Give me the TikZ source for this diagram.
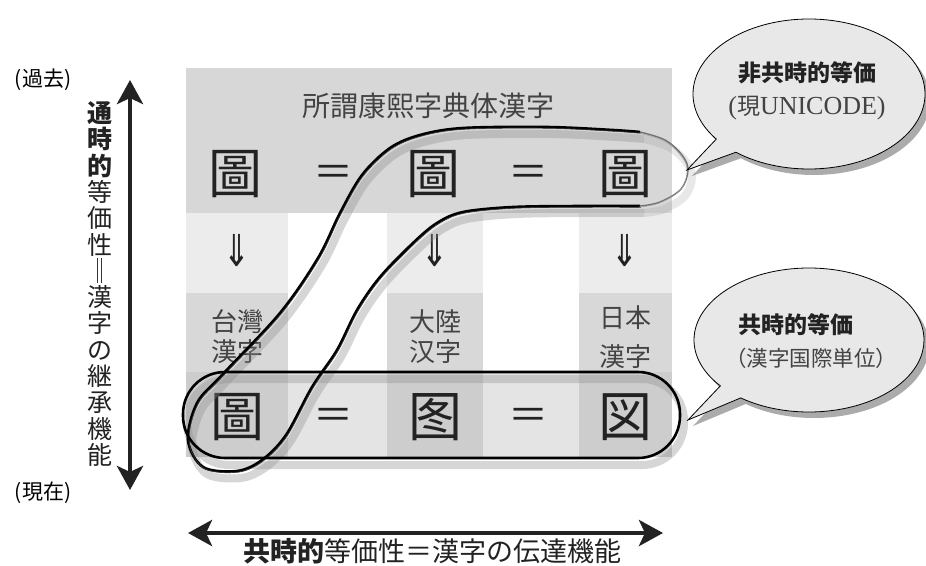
\documentclass[tikz,border=0pt]{standalone}
\usepackage{fontspec}
\newfontfamily\cjk{Noto Sans CJK JP}
\newfontfamily\lserif{Liberation Serif}
\newfontfamily\dvs{DejaVu Sans}
\usetikzlibrary{arrows.meta,shapes.callouts,shadows}
\definecolor{ink}{HTML}{222222}
\definecolor{band}{HTML}{D7D7D7}
\definecolor{arrowrow}{HTML}{ECECEC}
\definecolor{labelcell}{HTML}{D8D8D8}
\definecolor{botdark}{HTML}{CDCDCD}
\definecolor{botlight}{HTML}{E4E4E4}
\definecolor{bubble}{HTML}{E8E8E8}
\newcommand\drawloopA[1]{\draw[#1] plot[smooth,tension=0.55] coordinates {(640,206) (580,206) (513,207) (463,212) (437,223) (413,243) (380,277) (357,310) (337,350) (312,387) (286,435) (262,460) (237,471) (203,467) (188,440) (197,403) (222,375) (280,313) (318,258) (340,213) (362,175) (390,148) (420,135) (463,128) (547,127) (613,130) (640,132)};}
\newcommand\drawloopAcap[1]{\draw[#1] plot[smooth,tension=0.6] coordinates {(640,132) (665,140) (682,155) (688,170) (681,189) (660,202) (640,206)};}
\newcommand\drawloopB[1]{\draw[#1,rounded corners=42pt] (183,372) rectangle (680,458);}
\begin{document}
\begin{tikzpicture}[x=1pt,y=-1pt,
  big/.style={font=\cjk\fontsize{54}{54}\selectfont, text=ink, inner sep=0pt},
  eqs/.style={font=\cjk\fontsize{40}{40}\selectfont, text=ink, inner sep=0pt},
  darr/.style={font=\dvs\fontsize{40}{40}\selectfont, text=ink, inner sep=0pt},
  lbl/.style={font=\cjk\fontsize{26}{30}\selectfont, text=ink!85, align=center, inner sep=0pt},
  side/.style={font=\cjk\fontsize{21}{21}\selectfont, text=black, inner sep=0pt},
  thickarrow/.style={line width=4.5pt, draw=ink, {Stealth[length=24pt,width=26pt,inset=6pt]}-{Stealth[length=24pt,width=26pt,inset=6pt]}},
  bubblestyle/.style={ellipse callout, draw=black, line width=0.8pt, fill=bubble, callout pointer arc=14,
     drop shadow={shadow xshift=5pt, shadow yshift=-6pt, opacity=0.55, fill=black!60}},
  loopline/.style={line width=2.6pt, draw=black},
  loopthin/.style={line width=0.7pt, draw=black!80},
  loopshadow/.style={line width=8pt, draw=black!45, opacity=0.35},
]
\useasboundingbox (0,0) rectangle (926,565);
\fill[white] (0,0) rectangle (926,565);
% table background
\fill[band] (186,68) rectangle (672,213);
\fill[arrowrow] (186,213) rectangle (288,293);
\fill[arrowrow] (387,213) rectangle (483,293);
\fill[arrowrow] (579,213) rectangle (672,293);
\fill[labelcell] (186,293) rectangle (288,372);
\fill[labelcell] (387,293) rectangle (483,372);
\fill[labelcell] (579,293) rectangle (672,372);
\fill[botdark] (186,372) rectangle (288,457);
\fill[botlight] (288,372) rectangle (387,457);
\fill[botdark] (387,372) rectangle (483,457);
\fill[botlight] (483,372) rectangle (579,457);
\fill[botdark] (579,372) rectangle (672,457);

% title
\node[font=\cjk\fontsize{28}{28}\selectfont, text=ink!85, inner sep=0pt] (title) at (428,106) {所謂康熙字典体漢字};
% top row
\node[big] (a1) at (235,174) {圖};
\node[eqs] (ae1) at (333,176) {＝};
\node[big] (a2) at (433,174) {圖};
\node[eqs] (ae2) at (528,176) {＝};
\node[big] (a3) at (625,174) {圖};
% arrows row
\node[darr] (d1) at (237,251) {\scalebox{0.8}[1.1]{⇓}};
\node[darr] (d2) at (435,251) {\scalebox{0.8}[1.1]{⇓}};
\node[darr] (d3) at (625,251) {\scalebox{0.8}[1.1]{⇓}};
% labels
\node[lbl] (l1) at (237,337) {台灣\\漢字};
\node[lbl] (l2) at (435,337) {大陸\\汉字};
\node[lbl, font=\cjk\fontsize{26}{39}\selectfont] (l3) at (625,337) {日本\\漢字};
% bottom row
\node[big] (b1) at (237,417) {圖};
\node[eqs] (be1) at (333,419) {＝};
\node[big] (b2) at (435,417) {图};
\node[eqs] (be2) at (528,419) {＝};
\node[big] (b3) at (625,417) {図};

% loops shadows
\begin{scope}[shift={(4,7)}]
  \drawloopA{loopshadow}
  \drawloopAcap{loopshadow, opacity=0.2}
  \drawloopB{loopshadow}
\end{scope}
% loops
\drawloopA{loopline}
\begin{scope}[shift={(0.9,1.2)}]
  \drawloopA{loopthin}
\end{scope}
\drawloopAcap{line width=1.4pt, draw=black!55}
\begin{scope}[shift={(-0.8,1.0)}]
  \drawloopAcap{line width=0.5pt, draw=black!40}
\end{scope}
\drawloopB{loopline}

% left vertical arrow and labels
\coordinate (vtop) at (130,80);
\coordinate (vbot) at (130,490);
\draw[thickarrow] (vtop) -- (vbot);
\node[side] (past) at (43,80) {(過去)};
\node[side] (now) at (43,493) {(現在)};
\node[font=\cjk\fontsize{25}{26.3}\selectfont, text=ink, align=center, inner sep=0pt] (vtext) at (100,284)
  {{\bfseries 通}\\{\bfseries 時}\\{\bfseries 的}\\等\\価\\性\\‖\\漢\\字\\の\\継\\承\\機\\能};

% bottom horizontal arrow
\coordinate (hleft) at (188,533);
\coordinate (hright) at (663,533);
\draw[thickarrow] (hleft) -- (hright);
\node[font=\cjk\fontsize{27}{28}\selectfont, text=ink, inner sep=0pt] (htext) at (432,551)
  {{\bfseries 共時的}等価性＝漢字の伝達機能};

% callouts
\coordinate (tip1) at (687,170);
\coordinate (tip2) at (688,420);
\node[bubblestyle, minimum width=232pt, minimum height=150pt, callout absolute pointer={(tip1)}] (c1) at (809,94) {};
\node[font=\cjk\bfseries\fontsize{23}{23}\selectfont, text=ink, inner sep=0pt] (c1a) at (807,73) {非共時的等価};
\node[font=\lserif\fontsize{26}{26}\selectfont, text=ink!85, inner sep=0pt] (c1b) at (807,108) {({\cjk\fontsize{23}{23}\selectfont 現}UNICODE)};
\node[bubblestyle, minimum width=230pt, minimum height=144pt, callout absolute pointer={(tip2)}] (c2) at (809,340) {};
\node[font=\cjk\bfseries\fontsize{23}{23}\selectfont, text=ink, inner sep=0pt] (c2a) at (796,325) {共時的等価};
\node[font=\cjk\fontsize{21.5}{21.5}\selectfont, text=ink!85, inner sep=0pt] (c2b) at (811,358) {（漢字国際単位）};
\end{tikzpicture}
\end{document}
